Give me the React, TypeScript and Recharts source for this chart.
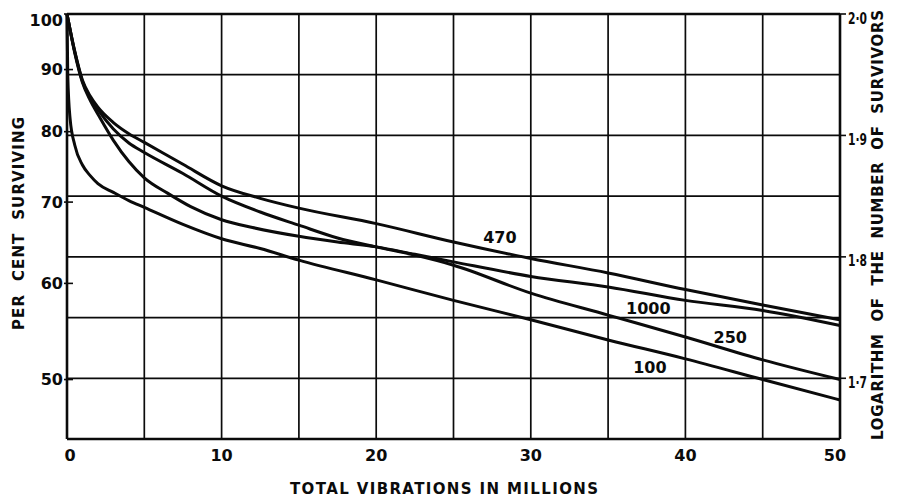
import React from 'react';
import { LineChart, Line, XAxis, YAxis, CartesianGrid, ReferenceDot, ReferenceLine } from 'recharts';

// Axis ticks
const xTicks = [0, 5, 10, 15, 20, 25, 30, 35, 40, 45, 50];
const percentTicks = [50, 60, 70, 80, 90, 100];
const logTicks = [1.65, 1.7, 1.75, 1.8, 1.85, 1.9, 1.95, 2.0];
const logLabelTicks = [1.7, 1.8, 1.9, 2.0];

// Frequency 470: vibrations (millions) and per cent surviving
const vib470 = [0, 0.5, 1, 1.5, 2, 3, 4, 5, 7.5, 10, 12.5, 15, 20, 25, 30, 35, 40, 45, 50];
const surv470 = [100, 93.2, 88.2, 85.6, 83.8, 81.4, 79.7, 78.4, 75.2, 72.2, 70.5, 69.2, 67.2, 64.9, 62.9, 61.2, 59.3, 57.6, 56.0];

// Frequency 250
const vib250 = [0, 0.5, 1, 1.5, 2, 3, 4, 5, 7.5, 10, 12.5, 15, 17.5, 20, 22.5, 25, 30, 35, 40, 45, 50];
const surv250 = [100, 93.1, 88.0, 85.3, 83.4, 80.4, 78.3, 76.9, 73.9, 70.8, 68.7, 67.0, 65.4, 64.3, 63.3, 62.1, 58.9, 56.5, 54.2, 51.9, 50.0];

// Frequency 1000
const vib1000 = [0, 0.5, 1, 1.5, 2, 3, 4, 5, 6.5, 8, 10, 12, 15, 17.5, 20, 22.5, 25, 30, 35, 40, 45, 50];
const surv1000 = [100, 92.9, 87.8, 84.9, 82.7, 78.7, 75.6, 73.3, 71.2, 69.4, 67.7, 66.7, 65.6, 64.9, 64.3, 63.4, 62.5, 60.8, 59.6, 58.1, 57.0, 55.4];

// Frequency 100
const vib100 = [0, 0.05, 0.2, 0.5, 1, 1.5, 2, 3, 4, 5, 7.5, 10, 12.5, 15, 20, 25, 30, 35, 40, 45, 50];
const surv100 = [100, 89.0, 82.0, 78.0, 75.1, 73.6, 72.5, 71.3, 70.2, 69.3, 67.1, 65.3, 64.1, 62.7, 60.4, 58.1, 56.0, 53.9, 52.0, 50.0, 48.1];

const toLogPoints = (xs: number[], pcts: number[]) =>
  xs.map((x, i) => ({ x, y: Math.log10(pcts[i]) }));

const data470 = toLogPoints(vib470, surv470);
const data250 = toLogPoints(vib250, surv250);
const data1000 = toLogPoints(vib1000, surv1000);
const data100 = toLogPoints(vib100, surv100);

const FONT = '"DejaVu Sans", sans-serif';
const INK = '#0b0b0b';
const LOG_DOMAIN: [number, number] = [1.65, 2];

const XTick = (props: any) => {
  const { x, y, payload } = props;
  const v = payload.value as number;
  if (v % 10 !== 0) return <g />;
  const nudge = v === 0 ? 3 : v === 50 ? -5 : 0;
  return (
    <text x={x + nudge} y={y + 16} textAnchor="middle" dominantBaseline="central"
      fontFamily={FONT} fontSize={16} fontWeight="bold" fill={INK}>
      {v}
    </text>
  );
};

const PercentTick = (props: any) => {
  const { x, y, payload } = props;
  const pct = Math.round(Math.pow(10, payload.value));
  const shift = pct === 100 ? 6 : 0;
  return (
    <g>
      <line x1={x + 1} x2={x + 10} y1={y} y2={y} stroke={INK} strokeWidth={1.6} />
      <text x={x} y={y + shift} textAnchor="end" dominantBaseline="central"
        fontFamily={FONT} fontSize={16} fontWeight="bold" fill={INK}>
        {pct}
      </text>
    </g>
  );
};

const LogTick = (props: any) => {
  const { x, y, payload } = props;
  const v = payload.value as number;
  const labelled = logLabelTicks.some((t) => Math.abs(t - v) < 1e-6);
  if (!labelled) return <g />;
  return (
    <g>
      <line x1={x - 8} x2={x - 2} y1={y} y2={y} stroke={INK} strokeWidth={1.6} />
      <text x={x} y={y + 4} textAnchor="start" dominantBaseline="central"
        textLength={19} lengthAdjust="spacingAndGlyphs"
        fontFamily={FONT} fontSize={16} fontWeight="bold" fill={INK}>
        {v.toFixed(1).replace('.', '\u00B7')}
      </text>
    </g>
  );
};

const AxisTitle = ({ centerX, centerY, span, turn, title, size }: any) => (
  <text
    transform={`translate(${centerX},${centerY}) rotate(${turn})`}
    textAnchor="middle"
    dominantBaseline="central"
    textLength={span}
    lengthAdjust="spacing"
    fontFamily={FONT}
    fontSize={size}
    fontWeight="bold"
    fill={INK}
    style={{ whiteSpace: 'pre' }}
  >
    {title}
  </text>
);

const curveLabelStyle = { fill: INK, fontSize: 16, fontWeight: 'bold', fontFamily: FONT };

const lineProps = {
  type: 'monotone' as const,
  dataKey: 'y',
  stroke: INK,
  strokeWidth: 3,
  dot: false,
  isAnimationActive: false,
};

export default function App() {
  return (
    <div style={{ position: 'absolute', left: 0, top: 0, width: 904, height: 497, background: '#fff' }}>
      <LineChart width={904} height={497} margin={{ top: 14, right: 0, bottom: 0, left: 0 }}>
        <CartesianGrid yAxisId="log" stroke={INK} strokeWidth={1.7} />
        <XAxis
          type="number"
          dataKey="x"
          domain={[0, 50]}
          ticks={xTicks}
          interval={0}
          height={58}
          tickSize={0}
          tickMargin={0}
          tick={<XTick />}
          axisLine={{ stroke: INK, strokeWidth: 2.6 }}
          tickLine={false}
          label={<AxisTitle centerX={444} centerY={489} span={308} turn={0} size={15} title="TOTAL VIBRATIONS IN MILLIONS" />}
        />
        <YAxis
          yAxisId="pct"
          orientation="left"
          type="number"
          domain={LOG_DOMAIN}
          allowDataOverflow
          ticks={percentTicks.map((p) => Math.log10(p))}
          interval={0}
          width={67}
          tickSize={0}
          tickMargin={4}
          tick={<PercentTick />}
          axisLine={{ stroke: INK, strokeWidth: 2.6 }}
          tickLine={false}
          label={<AxisTitle centerX={18.5} centerY={223.5} span={213} turn={-90} size={15} title="PER  CENT  SURVIVING" />}
        />
        <YAxis
          yAxisId="log"
          orientation="right"
          type="number"
          domain={LOG_DOMAIN}
          allowDataOverflow
          ticks={logTicks}
          interval={0}
          width={64}
          tickSize={0}
          tickMargin={8}
          tick={<LogTick />}
          axisLine={{ stroke: INK, strokeWidth: 2.6 }}
          tickLine={false}
          label={<AxisTitle centerX={878} centerY={225} span={430} turn={-90} size={15} title="LOGARITHM  OF  THE  NUMBER  OF  SURVIVORS" />}
        />
        <ReferenceLine yAxisId="log" y={2} stroke={INK} strokeWidth={2.6} />
        {/* both y axes share one log domain; the left one reads it as per cent */}
        <Line yAxisId="log" data={data470} {...lineProps} />
        <Line yAxisId="log" data={data250} {...lineProps} />
        <Line yAxisId="pct" data={data1000} {...lineProps} />
        <Line yAxisId="pct" data={data100} {...lineProps} />
        <ReferenceDot yAxisId="log" x={28} y={1.8163} r={0} fill="none" stroke="none" label={{ value: '470', position: 'center', ...curveLabelStyle }} />
        <ReferenceDot yAxisId="log" x={37.6} y={1.7578} r={0} fill="none" stroke="none" label={{ value: '1000', position: 'center', ...curveLabelStyle }} />
        <ReferenceDot yAxisId="log" x={42.9} y={1.7339} r={0} fill="none" stroke="none" label={{ value: '250', position: 'center', ...curveLabelStyle }} />
        <ReferenceDot yAxisId="log" x={37.7} y={1.7092} r={0} fill="none" stroke="none" label={{ value: '100', position: 'center', ...curveLabelStyle }} />
      </LineChart>
    </div>
  );
}
